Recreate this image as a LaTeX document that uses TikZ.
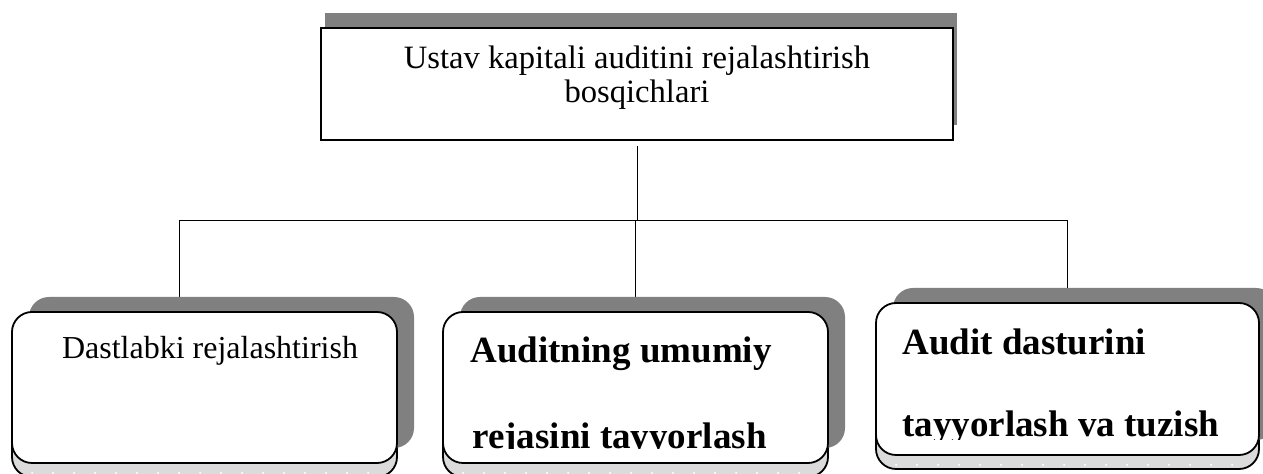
\documentclass[tikz,border=0pt]{standalone}
\usepackage{fontspec}
\setmainfont{Liberation Serif}
\usetikzlibrary{shadows,backgrounds}
\tikzset{every node/.style={inner sep=0pt},line cap=round,line join=round}

\begin{document}
\begin{tikzpicture}[x=0.5pt,y=-0.5pt,
  headbox/.style={draw,line width=1pt,fill=white,minimum width=316pt,minimum height=56pt,
    align=center,font=\fontsize{16.3}{17}\selectfont,text depth=10pt,
    general shadow={shadow xshift=2pt,shadow yshift=7.5pt,fill=gray,opacity=1}},
  stagebox/.style={draw,line width=0.9pt,fill=white,rounded corners=10pt,
    minimum width=192.5pt,minimum height=75.5pt,
    general shadow={shadow yshift=-7pt,draw,fill=gray!28,opacity=1},
    general shadow={shadow xshift=8.5pt,shadow yshift=7.5pt,fill=gray,opacity=1}},
  plaintxt/.style={anchor=base,font=\fontsize{16}{17}\selectfont},
  boldtxt/.style={anchor=base west,font=\fontsize{18.5}{20}\selectfont\bfseries}]
  \path[use as bounding box] (0,0) rectangle (1263,474);

  % boxes
  \node[headbox] (head) at (637,84) {Ustav kapitali auditini rejalashtirish\\bosqichlari};
  \node[stagebox] (prelim) at (204.5,387.5) {};
  \node[stagebox] (general) at (635.5,387.5) {};
  \node[stagebox,minimum width=191.5pt,minimum height=76pt] (program) at (1067.5,379) {};

  % dots on the lower rims
  \foreach \b in {prelim,general,program}
    \foreach \i in {1,...,17}
      \fill[white] ([xshift=\i*10.5pt,yshift=-4.5pt]\b.south west) circle (0.6pt);

  % texts
  \node[plaintxt] (prelimtxt) at (210,359) {Dastlabki rejalashtirish};
  \begin{scope}
    \clip (443,312) rectangle (828,449);
    \node[boldtxt] (generaltxt1) at (470,363) {Auditning umumiy};
    \node[boldtxt] (generaltxt2) at (472,449) {rejasini tayyorlash};
  \end{scope}
  \begin{scope}
    \clip (876,303) rectangle (1259,440);
    \node[boldtxt] (programtxt1) at (902,355) {Audit dasturini};
    \node[boldtxt] (programtxt2) at (902,437) {tayyorlash va tuzish};
  \end{scope}

  % connectors
  \coordinate (bus) at (179,220);
  \begin{scope}[on background layer,line width=1pt]
    \draw ([yshift=-2.5pt]head.south) -- (head.south |- bus);
    \draw (bus |- prelim.north) -- (bus) -- (bus -| program.north) -- (program.north);
    \draw (general.north) -- (general.north |- bus);
  \end{scope}
\end{tikzpicture}
\end{document}
